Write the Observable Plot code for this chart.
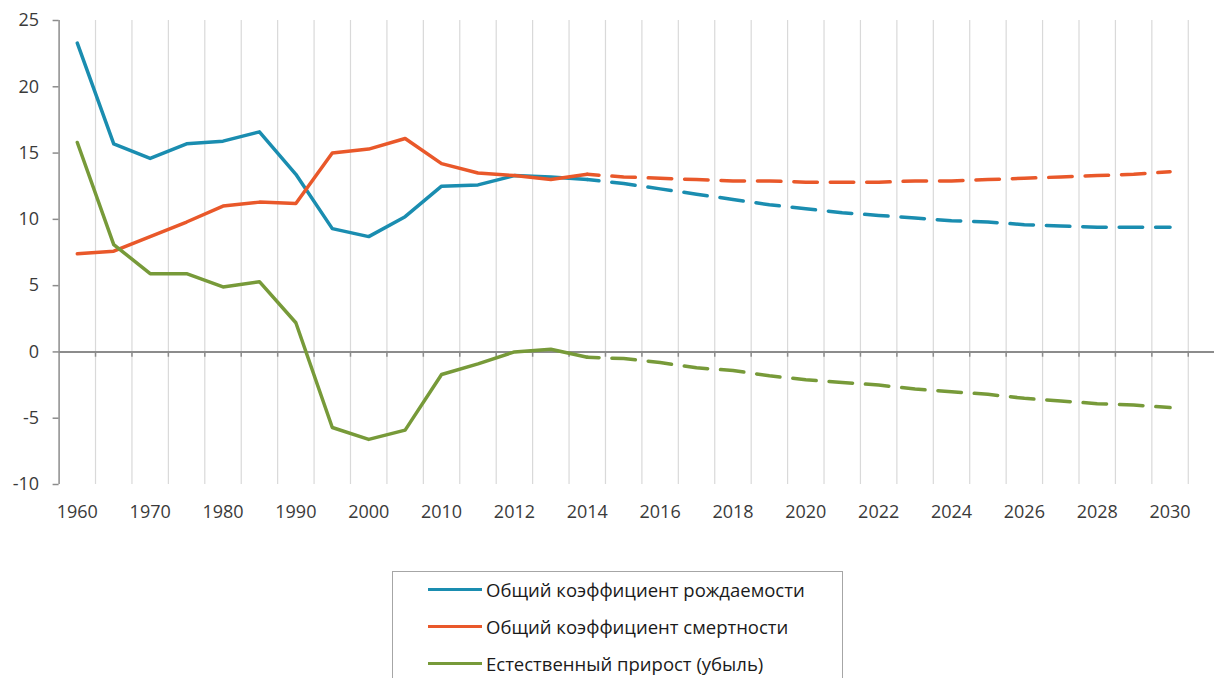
<!DOCTYPE html>
<html>
<head>
<meta charset="utf-8">
<script src="https://cdn.jsdelivr.net/npm/d3@7"></script>
<script src="https://cdn.jsdelivr.net/npm/@observablehq/plot@0.6"></script>
<style>
  html, body { margin: 0; padding: 0; background: #fff; }
  body { width: 1214px; height: 678px; overflow: hidden; position: relative; font-family: "Open Sans", sans-serif; }
  #legend { position: absolute; left: 392px; top: 571px; width: 451px; height: 140px; border: 1.5px solid #a6a6a6; box-sizing: border-box; }
  .item { position: absolute; left: 35px; display: flex; align-items: center; font-size: 18.5px; color: #1a1a1a; white-space: nowrap; }
  .swatch { width: 54px; height: 3.5px; margin-right: 4px; }
</style>
</head>
<body>
<div id="chart"></div>
<div id="legend"></div>
<script>
const categories = ["1960","1965","1970","1975","1980","1985","1990","1995","2000","2005",
  "2010","2011","2012","2013","2014","2015","2016","2017","2018","2019","2020",
  "2021","2022","2023","2024","2025","2026","2027","2028","2029","2030"];
const seriesNames = ["Общий коэффициент рождаемости","Общий коэффициент смертности","Естественный прирост (убыль)"];
const seriesColors = ["#1a8db0","#e9582a","#779a39"];
const births = [23.3,15.7,14.6,15.7,15.9,16.6,13.4,9.3,8.7,10.2,
  12.5,12.6,13.3,13.2,13.0,12.7,12.3,11.9,11.5,11.1,10.8,
  10.5,10.3,10.1,9.9,9.8,9.6,9.5,9.4,9.4,9.4];
const deaths = [7.4,7.6,8.7,9.8,11.0,11.3,11.2,15.0,15.3,16.1,
  14.2,13.5,13.3,13.0,13.4,13.2,13.1,13.0,12.9,12.9,12.8,
  12.8,12.8,12.9,12.9,13.0,13.1,13.2,13.3,13.4,13.6];
const natural = [15.8,8.1,5.9,5.9,4.9,5.3,2.2,-5.7,-6.6,-5.9,
  -1.7,-0.9,0.0,0.2,-0.4,-0.5,-0.8,-1.2,-1.4,-1.8,-2.1,
  -2.3,-2.5,-2.8,-3.0,-3.2,-3.5,-3.7,-3.9,-4.0,-4.2];
const yTicks = [-10,-5,0,5,10,15,20,25];
const lastActual = "2014";

const values = [births, deaths, natural];
const rows = [];
values.forEach((arr, s) => arr.forEach((v, i) => rows.push({i, cat: categories[i], value: v, series: seriesNames[s]})));
const split = categories.indexOf(lastActual);
const idx = categories.map((c, i) => i);
const boundaries = idx.map(i => i + 0.5);
const labelIdx = idx.filter(i => i % 2 === 0);

const W = 1214, H = 545;
const xDomain = [-0.5, 31.22];

const lineStyle = {x: "i", y: "value", z: "series", stroke: "series", strokeWidth: 3.5, strokeLinejoin: "round"};

const plot = Plot.plot({
  width: W, height: H,
  marginLeft: 58.6, marginRight: 0, marginTop: 20, marginBottom: H - 484,
  style: {fontFamily: "Open Sans, sans-serif", fontSize: "18px", color: "#3a3a3a", background: "#fff"},
  x: {type: "linear", domain: xDomain},
  y: {domain: [-10, 25]},
  color: {domain: seriesNames, range: seriesColors},
  marks: [
    Plot.ruleX(boundaries, {stroke: "#d9d9d9", strokeWidth: 1.2}),
    Plot.ruleX([xDomain[0]], {y1: -10, y2: 25, stroke: "#8c8c8c", strokeWidth: 1.5}),
    Plot.ruleY([0], {stroke: "#8c8c8c", strokeWidth: 2}),
    Plot.ruleX(boundaries, {y1: 0, y2: -0.4, stroke: "#8c8c8c", strokeWidth: 1.5}),
    Plot.axisY({ticks: yTicks, tickSize: 6, tickPadding: 14, stroke: "#8c8c8c", fill: "#3a3a3a", strokeWidth: 1.5, fontSize: 18, label: null, tickFormat: d => String(d)}),
    Plot.axisX({ticks: labelIdx, tickFormat: i => categories[i], tickSize: 0, tickPadding: 21, fill: "#3a3a3a", fontSize: 18, label: null}),
    Plot.line(rows.filter(d => d.i <= split), lineStyle),
    Plot.line(rows.filter(d => d.i >= split), {...lineStyle, strokeDasharray: "23.5,12.92", strokeDashoffset: 11.75})
  ]
});
document.getElementById("chart").appendChild(plot);

const legend = document.getElementById("legend");
seriesNames.forEach((name, k) => {
  const item = document.createElement("div");
  item.className = "item";
  item.style.top = (5 + k * 37) + "px";
  const sw = document.createElement("span");
  sw.className = "swatch";
  sw.style.background = seriesColors[k];
  const tx = document.createElement("span");
  tx.textContent = name;
  item.appendChild(sw); item.appendChild(tx);
  legend.appendChild(item);
});
</script>
</body>
</html>
